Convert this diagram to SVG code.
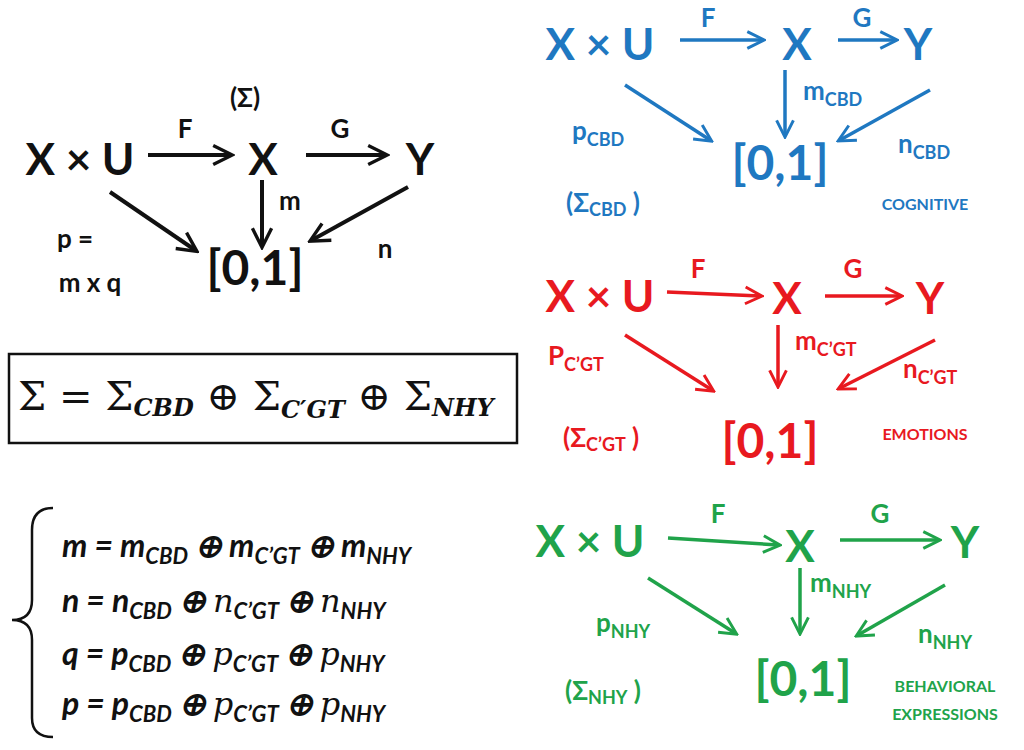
<svg xmlns="http://www.w3.org/2000/svg" width="1024" height="750" viewBox="0 0 1024 750">
<style>
text{font-family:Lato,"Open Sans",sans-serif;font-weight:bold}
.big{font-size:44px}.lb{font-size:26px}.br{font-size:48px}.sm{font-size:16px}
.k{fill:#111}.b{fill:#1f78c1}.r{fill:#e8191f}.g{fill:#20a34a}
.lk{stroke:#111;stroke-width:4;fill:none}.lbl{stroke:#1f78c1;stroke-width:3.5;fill:none}
.lr{stroke:#e8191f;stroke-width:3.5;fill:none}.lg{stroke:#20a34a;stroke-width:3.5;fill:none}
.math{font-family:"DejaVu Serif","Liberation Serif",serif;font-weight:normal}
</style>
<defs>
<marker id="ak" viewBox="0 0 10 10" refX="8" refY="5" markerWidth="6" markerHeight="6" orient="auto" markerUnits="strokeWidth"><path d="M1,1 L9,5 L1,9" fill="none" stroke="#111" stroke-width="1.4"/></marker>
<marker id="ab" viewBox="0 0 10 10" refX="8" refY="5" markerWidth="6" markerHeight="6" orient="auto" markerUnits="strokeWidth"><path d="M1,1 L9,5 L1,9" fill="none" stroke="#1f78c1" stroke-width="1.4"/></marker>
<marker id="ar" viewBox="0 0 10 10" refX="8" refY="5" markerWidth="6" markerHeight="6" orient="auto" markerUnits="strokeWidth"><path d="M1,1 L9,5 L1,9" fill="none" stroke="#e8191f" stroke-width="1.4"/></marker>
<marker id="ag" viewBox="0 0 10 10" refX="8" refY="5" markerWidth="6" markerHeight="6" orient="auto" markerUnits="strokeWidth"><path d="M1,1 L9,5 L1,9" fill="none" stroke="#20a34a" stroke-width="1.4"/></marker>
</defs>
<g id="connectors">
<g class="lk" marker-end="url(#ak)">
<line x1="148" y1="155" x2="230" y2="155"/><line x1="306" y1="155" x2="385" y2="155"/>
<line x1="262" y1="180" x2="262" y2="245"/><line x1="110" y1="192" x2="195" y2="250"/><line x1="408" y1="187" x2="312" y2="240"/>
</g>
<g class="lbl" marker-end="url(#ab)">
<line x1="680" y1="40" x2="762" y2="40"/><line x1="838" y1="40" x2="895" y2="40"/>
<line x1="785" y1="70" x2="785" y2="135"/><line x1="625" y1="85" x2="710" y2="140"/><line x1="930" y1="90" x2="840" y2="140"/>
</g>
<g class="lr" marker-end="url(#ar)">
<line x1="667" y1="292" x2="760" y2="296"/><line x1="825" y1="296" x2="900" y2="296"/>
<line x1="778" y1="325" x2="778" y2="385"/><line x1="625" y1="335" x2="712" y2="390"/><line x1="935" y1="340" x2="840" y2="388"/>
</g>
<g class="lg" marker-end="url(#ag)">
<line x1="668" y1="538" x2="778" y2="545"/><line x1="840" y1="540" x2="938" y2="540"/>
<line x1="800" y1="568" x2="800" y2="632"/><line x1="648" y1="578" x2="735" y2="633"/><line x1="945" y1="585" x2="858" y2="635"/>
</g>
</g>
<g id="sigma-main">
<text class="lb k" x="245" y="107" text-anchor="middle">(Σ)</text>
<text class="big k" x="80" y="175" text-anchor="middle">X × U</text>
<text class="big k" x="263" y="175" text-anchor="middle">X</text>
<text class="big k" x="420" y="175" text-anchor="middle">Y</text>
<text class="lb k" x="185" y="138" text-anchor="middle">F</text>
<text class="lb k" x="340" y="138" text-anchor="middle">G</text>
<text class="lb k" x="290" y="210" text-anchor="middle">m</text>
<text class="lb k" x="75" y="248" text-anchor="middle">p =</text>
<text class="lb k" x="90" y="292" text-anchor="middle">m x q</text>
<text class="lb k" x="385" y="258" text-anchor="middle">n</text>
<text class="br k" x="255" y="285" text-anchor="middle">[0,1]</text>
</g>
<g id="cbd">
<text class="big b" x="600" y="60" text-anchor="middle">X × U</text>
<text class="big b" x="797" y="60" text-anchor="middle">X</text>
<text class="big b" x="918" y="60" text-anchor="middle">Y</text>
<text class="lb b" x="708" y="27" text-anchor="middle">F</text>
<text class="lb b" x="862" y="27" text-anchor="middle">G</text>
<text class="lb b" x="803" y="100">m<tspan font-size="18" dy="6">CBD</tspan></text>
<text class="lb b" x="572" y="140">p<tspan font-size="18" dy="6">CBD</tspan></text>
<text class="lb b" x="898" y="153">n<tspan font-size="18" dy="6">CBD</tspan></text>
<text class="br b" x="780" y="180" text-anchor="middle">[0,1]</text>
<text class="lb b" x="566" y="212">(Σ<tspan font-size="18" dy="4">CBD</tspan><tspan dy="-4"> )</tspan></text>
<text class="sm b" x="925" y="210" text-anchor="middle">COGNITIVE</text>
</g>
<g id="cgt">
<text class="big r" x="600" y="312" text-anchor="middle">X × U</text>
<text class="big r" x="787" y="314" text-anchor="middle">X</text>
<text class="big r" x="930" y="314" text-anchor="middle">Y</text>
<text class="lb r" x="698" y="278" text-anchor="middle">F</text>
<text class="lb r" x="853" y="278" text-anchor="middle">G</text>
<text class="lb r" x="795" y="350">m<tspan font-size="18" dy="6">C’GT</tspan></text>
<text class="lb r" x="548" y="365">P<tspan font-size="18" dy="6">C’GT</tspan></text>
<text class="lb r" x="903" y="378">n<tspan font-size="18" dy="6">C’GT</tspan></text>
<text class="br r" x="770" y="458" text-anchor="middle">[0,1]</text>
<text class="lb r" x="563" y="447">(Σ<tspan font-size="18" dy="4">C’GT</tspan><tspan dy="-4"> )</tspan></text>
<text class="sm r" x="925" y="440" text-anchor="middle">EMOTIONS</text>
</g>
<g id="nhy">
<text class="big g" x="590" y="557" text-anchor="middle">X × U</text>
<text class="big g" x="800" y="562" text-anchor="middle">X</text>
<text class="big g" x="965" y="558" text-anchor="middle">Y</text>
<text class="lb g" x="718" y="523" text-anchor="middle">F</text>
<text class="lb g" x="880" y="523" text-anchor="middle">G</text>
<text class="lb g" x="810" y="592">m<tspan font-size="18" dy="6">NHY</tspan></text>
<text class="lb g" x="596" y="632">p<tspan font-size="18" dy="6">NHY</tspan></text>
<text class="lb g" x="918" y="643">n<tspan font-size="18" dy="6">NHY</tspan></text>
<text class="br g" x="803" y="696" text-anchor="middle">[0,1]</text>
<text class="lb g" x="565" y="700">(Σ<tspan font-size="18" dy="4">NHY</tspan><tspan dy="-4"> )</tspan></text>
<text class="sm g" x="945" y="692" text-anchor="middle">BEHAVIORAL</text>
<text class="sm g" x="945" y="720" text-anchor="middle">EXPRESSIONS</text>
</g>
<g id="sum-box">
<rect x="9" y="354" width="508" height="89" fill="none" stroke="#111" stroke-width="2.5"/>
<text class="math k" x="18" y="410" font-size="40">Σ = Σ<tspan font-size="24" font-style="italic" font-weight="bold" dy="6">CBD</tspan><tspan dy="-6"> ⊕ Σ</tspan><tspan font-size="24" font-style="italic" font-weight="bold" dy="8">C′GT</tspan><tspan dy="-8"> ⊕ Σ</tspan><tspan font-size="24" font-style="italic" font-weight="bold" dy="6">NHY</tspan></text>
</g>
<g id="equations">
<path d="M53,508 Q32,508 32,530 L32,600 Q32,620 12,620 Q32,620 32,640 L32,718 Q32,737 53,737" fill="none" stroke="#111" stroke-width="2.5"/>
<g font-size="32" font-style="italic">
<text class="k" x="62" y="557">m = m<tspan font-size="22" dy="7">CBD</tspan><tspan dy="-7"> ⊕ m</tspan><tspan font-size="22" dy="7">C’GT</tspan><tspan dy="-7"> ⊕ m</tspan><tspan font-size="22" dy="7">NHY</tspan></text>
<text class="k" x="62" y="612">n = n<tspan font-size="22" dy="7">CBD</tspan><tspan dy="-7"> ⊕ </tspan><tspan class="math" font-style="italic">n</tspan><tspan font-size="22" dy="7">C’GT</tspan><tspan dy="-7"> ⊕ </tspan><tspan class="math" font-style="italic">n</tspan><tspan font-size="22" dy="7">NHY</tspan></text>
<text class="k" x="62" y="665">q = p<tspan font-size="22" dy="7">CBD</tspan><tspan dy="-7"> ⊕ </tspan><tspan class="math" font-style="italic">p</tspan><tspan font-size="22" dy="7">C’GT</tspan><tspan dy="-7"> ⊕ </tspan><tspan class="math" font-style="italic">p</tspan><tspan font-size="22" dy="7">NHY</tspan></text>
<text class="k" x="62" y="715">p = p<tspan font-size="22" dy="7">CBD</tspan><tspan dy="-7"> ⊕ </tspan><tspan class="math" font-style="italic">p</tspan><tspan font-size="22" dy="7">C’GT</tspan><tspan dy="-7"> ⊕ </tspan><tspan class="math" font-style="italic">p</tspan><tspan font-size="22" dy="7">NHY</tspan></text>
</g>
</g>
</svg>
